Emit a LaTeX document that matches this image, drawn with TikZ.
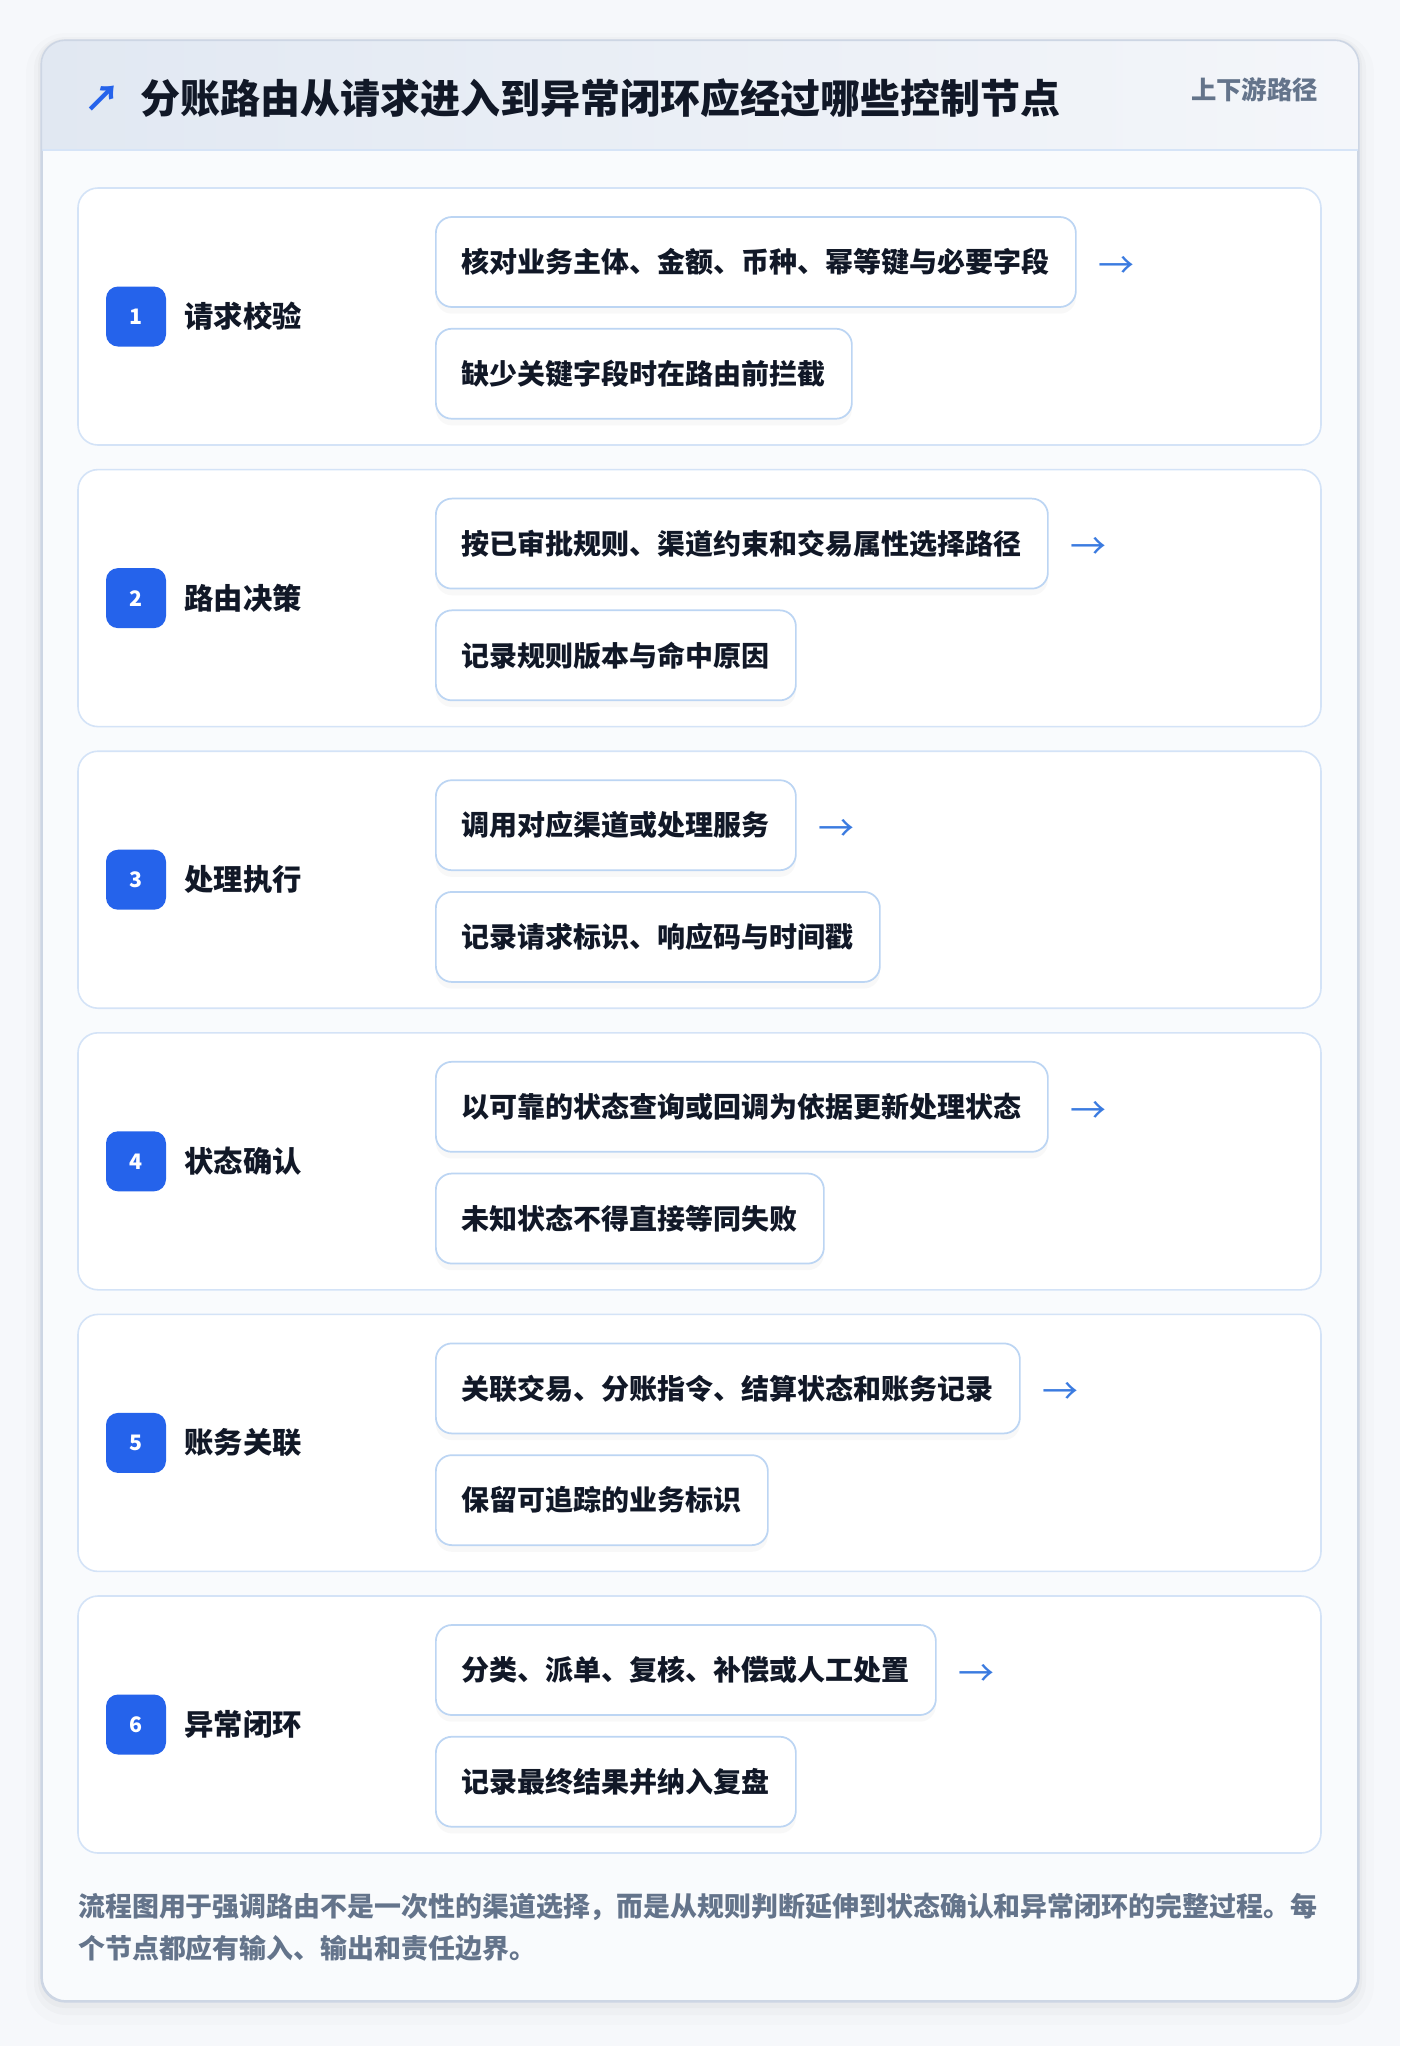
\documentclass[tikz,border=0pt]{standalone}
\usepackage{fontspec}
\setmainfont{Noto Sans CJK SC}
\usetikzlibrary{positioning,shadows}

\definecolor{pagebg}{HTML}{F6F8FB}
\definecolor{panelfill}{HTML}{F9FBFD}
\definecolor{panelline}{HTML}{CDD6E4}
\definecolor{headL}{HTML}{E1E8F2}
\definecolor{headR}{HTML}{F4F6FA}
\definecolor{headline}{HTML}{D6E4F7}
\definecolor{cardline}{HTML}{D4E3F7}
\definecolor{itemline}{HTML}{BCD5F3}
\definecolor{badgeblue}{HTML}{2563EB}
\definecolor{arrowblue}{HTML}{3B7BE0}
\definecolor{ink}{HTML}{111827}
\definecolor{muted}{HTML}{64748B}

\tikzset{
  stepcard/.style={draw=cardline, line width=1.2pt, fill=white, rounded corners=15pt,
    minimum width=932.25pt, minimum height=192.75pt, inner sep=0pt},
  badge/.style={fill=badgeblue, rounded corners=9pt, minimum size=45pt, inner sep=0pt,
    text=white, font=\fontsize{16}{19}\selectfont\bfseries},
  steplabel/.style={text=ink, inner sep=0pt, font=\fontsize{22}{26}\selectfont\bfseries},
  itembox/.style={draw=itemline, line width=1.3pt, fill=white, rounded corners=12pt,
    minimum height=67.5pt, inner xsep=19.5pt, inner ysep=0pt, text=ink,
    font=\fontsize{21}{25}\selectfont\bfseries,
    drop shadow={shadow xshift=0pt, shadow yshift=-5pt, opacity=0.05}},
  nextarrow/.style={text=arrowblue, inner sep=0pt, font=\fontsize{27}{30}\selectfont}
}

\begin{document}
\begin{tikzpicture}[x=0.75pt, y=-0.75pt]
\useasboundingbox (0,0) rectangle (1400,2046);
\fill[pagebg] (0,0) rectangle (1400,2046);

% soft shadow round the panel
\fill[black, opacity=0.012, rounded corners=30pt] (26,33) rectangle (1374,2025);
\fill[black, opacity=0.018, rounded corners=24pt] (34,37) rectangle (1366,2015);
\fill[black, opacity=0.025, rounded corners=20pt] (38,39) rectangle (1362,2008);

\node[draw=panelline, line width=1.2pt, fill=panelfill, rounded corners=18pt,
  minimum width=987pt, minimum height=1470pt, inner sep=0pt] (panel) at (700,1021) {};

% header band
\begin{scope}
\clip[rounded corners=18pt] (panel.north west) rectangle (panel.south east);
\shade[left color=headL, right color=headR] (42,41) rectangle (1358,150);
\end{scope}
\draw[headline, line width=1.2pt] (42,150) -- (1358,150);
\draw[panelline, line width=1.2pt, rounded corners=18pt] (panel.north west) rectangle (panel.south east);

\node[text=badgeblue, inner sep=0pt, font=\fontsize{27}{30}\selectfont\bfseries] (mark) at (102,99) {↗};
\node[anchor=west, text=ink, inner sep=0pt, font=\fontsize{30}{36}\selectfont\bfseries] (title) at (140,98) {分账路由从请求进入到异常闭环应经过哪些控制节点};
\node[anchor=east, text=muted, inner sep=0pt, font=\fontsize{19}{23}\selectfont\bfseries] (tag) at (1318,90) {上下游路径};

% step 1
\node[stepcard] (card1) at (699.5,316.5) {};
\node[badge] (num1) at (136,316.5) {1};
\node[steplabel, right=13.5pt of num1] (step1) {请求校验};
\node[itembox, anchor=west] (act1a) at (435,262) {核对业务主体、金额、币种、幂等键与必要字段};
\node[itembox, below=15pt of act1a.south west, anchor=north west] (act1b) {缺少关键字段时在路由前拦截};
\node[nextarrow, right=16pt of act1a.east, anchor=west, yshift=-4pt] (go1) {→};

% step 2
\node[stepcard] (card2) at (699.5,598.1) {};
\node[badge] (num2) at (136,598.1) {2};
\node[steplabel, right=13.5pt of num2] (step2) {路由决策};
\node[itembox, anchor=west] (act2a) at (435,543.6) {按已审批规则、渠道约束和交易属性选择路径};
\node[itembox, below=15pt of act2a.south west, anchor=north west] (act2b) {记录规则版本与命中原因};
\node[nextarrow, right=16pt of act2a.east, anchor=west, yshift=-4pt] (go2) {→};

% step 3
\node[stepcard] (card3) at (699.5,879.7) {};
\node[badge] (num3) at (136,879.7) {3};
\node[steplabel, right=13.5pt of num3] (step3) {处理执行};
\node[itembox, anchor=west] (act3a) at (435,825.2) {调用对应渠道或处理服务};
\node[itembox, below=15pt of act3a.south west, anchor=north west] (act3b) {记录请求标识、响应码与时间戳};
\node[nextarrow, right=16pt of act3a.east, anchor=west, yshift=-4pt] (go3) {→};

% step 4
\node[stepcard] (card4) at (699.5,1161.3) {};
\node[badge] (num4) at (136,1161.3) {4};
\node[steplabel, right=13.5pt of num4] (step4) {状态确认};
\node[itembox, anchor=west] (act4a) at (435,1106.8) {以可靠的状态查询或回调为依据更新处理状态};
\node[itembox, below=15pt of act4a.south west, anchor=north west] (act4b) {未知状态不得直接等同失败};
\node[nextarrow, right=16pt of act4a.east, anchor=west, yshift=-4pt] (go4) {→};

% step 5
\node[stepcard] (card5) at (699.5,1442.9) {};
\node[badge] (num5) at (136,1442.9) {5};
\node[steplabel, right=13.5pt of num5] (step5) {账务关联};
\node[itembox, anchor=west] (act5a) at (435,1388.4) {关联交易、分账指令、结算状态和账务记录};
\node[itembox, below=15pt of act5a.south west, anchor=north west] (act5b) {保留可追踪的业务标识};
\node[nextarrow, right=16pt of act5a.east, anchor=west, yshift=-4pt] (go5) {→};

% step 6
\node[stepcard] (card6) at (699.5,1724.5) {};
\node[badge] (num6) at (136,1724.5) {6};
\node[steplabel, right=13.5pt of num6] (step6) {异常闭环};
\node[itembox, anchor=west] (act6a) at (435,1670) {分类、派单、复核、补偿或人工处置};
\node[itembox, below=15pt of act6a.south west, anchor=north west] (act6b) {记录最终结果并纳入复盘};
\node[nextarrow, right=16pt of act6a.east, anchor=west, yshift=-4pt] (go6) {→};

% note under the steps
\node[anchor=west, align=left, text=muted, inner sep=0pt,
  font=\fontsize{20.2}{31.5}\selectfont\bfseries] (note) at (78,1927)
  {流程图用于强调路由不是一次性的渠道选择，而是从规则判断延伸到状态确认和异常闭环的完整过程。每\\个节点都应有输入、输出和责任边界。};
\end{tikzpicture}
\end{document}
